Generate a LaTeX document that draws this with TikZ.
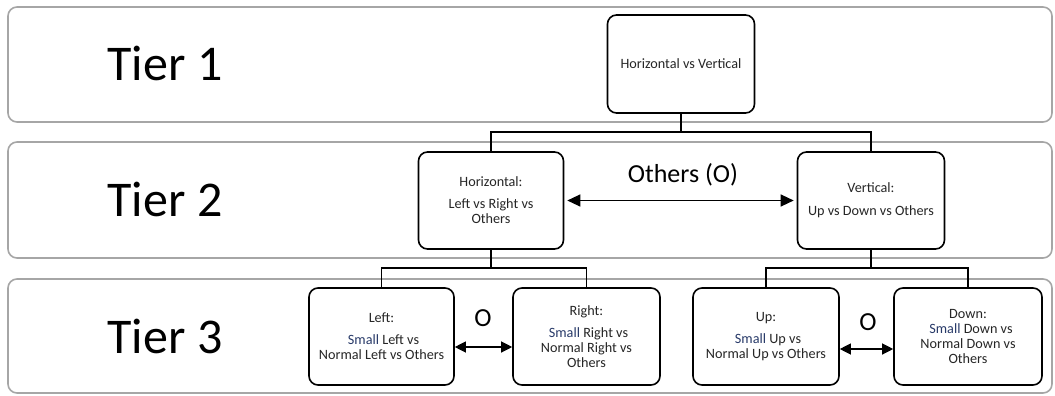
\documentclass[tikz,border=0pt]{standalone}
\usepackage{fontspec}
\setmainfont{Carlito}
\usetikzlibrary{arrows.meta,calc}
\definecolor{bandgray}{RGB}{166,166,166}
\definecolor{txt}{RGB}{38,38,38}
\definecolor{smallc}{RGB}{40,58,105}
\newcommand{\sm}{\textcolor{smallc}{Small}}
\tikzset{
  band/.style={draw=bandgray, line width=1.6pt, rounded corners=9pt},
  tierlabel/.style={font=\fontsize{50}{52}\selectfont, text=black, inner sep=0pt},
  boxnode/.style={draw=black, line width=1.6pt, rounded corners=9pt, fill=white,
    align=center, text=txt, font=\fontsize{14.2}{15}\selectfont, inner sep=2pt},
  conn/.style={draw=black, line width=1.6pt},
  dbl/.style={draw=black, line width=1.2pt, {Triangle[length=13pt,width=12pt]}-{Triangle[length=13pt,width=12pt]}},
  dbls/.style={draw=black, line width=1.2pt, {Triangle[length=11pt,width=11pt]}-{Triangle[length=11pt,width=11pt]}},
  olabel/.style={font=\fontsize{26}{28}\selectfont, text=black, inner sep=0pt},
}
\begin{document}
\begin{tikzpicture}[x=1pt,y=-1pt]
\useasboundingbox (0,0) rectangle (1055,396);
% tier bands
\draw[band] (8,7) rectangle (1052,122);
\draw[band] (8,142) rectangle (1052,258);
\draw[band] (8,279) rectangle (1052,393);
\node[tierlabel] (t1) at (165,63) {Tier 1};
\node[tierlabel] (t2) at (165,199) {Tier 2};
\node[tierlabel] (t3) at (165,336) {Tier 3};
% nodes
\node[boxnode, minimum width=147pt, minimum height=98pt] (top) at (681,64) {Horizontal vs Vertical};
\node[boxnode, minimum width=145pt, minimum height=97pt] (hor) at (491,200.5) {Horizontal:\\[7pt]Left vs Right vs\\Others};
\node[boxnode, minimum width=147pt, minimum height=97pt] (ver) at (871,200.5) {Vertical:\\[8pt]Up vs Down vs Others};
\node[boxnode, minimum width=145pt, minimum height=97pt] (lft) at (381.5,336.5) {Left:\\[7pt]\hspace{4pt}\sm{} Left vs\\Normal Left vs Others};
\node[boxnode, minimum width=147pt, minimum height=97pt] (rgt) at (586.5,336.5) {Right:\\[7pt]\hspace{4pt}\sm{} Right vs\\Normal Right vs\\Others};
\node[boxnode, minimum width=146pt, minimum height=97pt] (up) at (766,336.5) {Up:\\[7pt]\hspace{4pt}\sm{} Up vs\\Normal Up vs Others};
\node[boxnode, minimum width=148pt, minimum height=97pt] (dn) at (968,336.5) {Down:\\\hspace{6pt}\sm{} Down vs\\Normal Down vs\\Others};
% connectors
\coordinate (j1) at (0,132);
\coordinate (j2) at (0,268);
\draw[conn] (top.south) -- (top.south |- j1) -| (hor.north);
\draw[conn] (top.south |- j1) -| (ver.north);
\draw[conn] (hor.south) -- (hor.south |- j2) -| (lft.north);
\draw[conn] (hor.south |- j2) -| (rgt.north);
\draw[conn] (ver.south) -- (ver.south |- j2) -| (up.north);
\draw[conn] (ver.south |- j2) -| (dn.north);
% double arrows
\draw[dbl, shorten <=3pt, shorten >=3pt] (hor.east) -- (ver.west);
\draw[dbls] ([yshift=-10.5pt]lft.east) -- ([yshift=-10.5pt]lft.east -| rgt.west);
\draw[dbls] ([yshift=-12.5pt]up.east) -- ([yshift=-12.5pt]up.east -| dn.west);
% labels
\node[olabel] (oo) at (683,175) {Others (O)};
\node[olabel] (o1) at (483,318) {O};
\node[olabel] (o2) at (868,322) {O};
\end{tikzpicture}
\end{document}
